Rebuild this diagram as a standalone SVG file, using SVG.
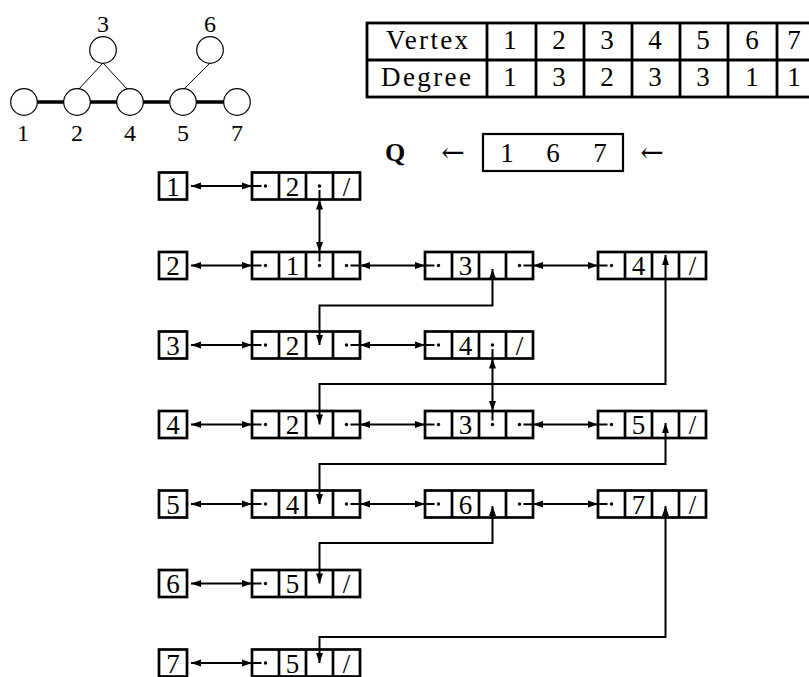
<svg xmlns="http://www.w3.org/2000/svg" width="809" height="677" viewBox="0 0 809 677">
<style>
.t{font-family:"Liberation Serif","Times New Roman",serif;fill:#000}
.g{font-size:24px;text-anchor:middle}
.d{font-size:27px;text-anchor:middle}
.box{fill:#fff;stroke:#000;stroke-width:2.7}
.sep{stroke:#000;stroke-width:2.7}
.tl{stroke:#000;stroke-width:2.8}
.v{fill:#fff;stroke:#000;stroke-width:1.2}
.thick{stroke:#000;stroke-width:3.5}
.thin{stroke:#000;stroke-width:1}
.c{fill:none;stroke:#000;stroke-width:2}
.dot{fill:#000}
.arr{font-family:"DejaVu Serif",serif;font-size:28px;text-anchor:middle}
</style>
<defs>
<marker id="a" markerUnits="userSpaceOnUse" markerWidth="10" markerHeight="7" refX="10" refY="3.5" orient="auto-start-reverse" overflow="visible"><path d="M0,0 L10,3.5 L0,7 z" fill="#000"/></marker>
<marker id="ai" markerUnits="userSpaceOnUse" markerWidth="20" markerHeight="7" refX="19.5" refY="3.5" orient="auto-start-reverse" overflow="visible"><path d="M0,0 L10,3.5 L0,7 z" fill="#000"/></marker>
</defs>

<!-- small graph -->
<g id="graph-edges">
<line class="thick" x1="24" y1="102" x2="237" y2="102"/>
<line class="thin" x1="103" y1="63" x2="78" y2="90"/>
<line class="thin" x1="103" y1="63" x2="128" y2="90"/>
<line class="thin" x1="210" y1="63" x2="184" y2="89"/>
</g>
<g id="v1"><circle class="v" cx="24" cy="102" r="13.3"/><text class="t g" x="23" y="141">1</text></g>
<g id="v2"><circle class="v" cx="77" cy="102" r="13.3"/><text class="t g" x="77" y="141">2</text></g>
<g id="v4"><circle class="v" cx="130" cy="102" r="13.3"/><text class="t g" x="130" y="141">4</text></g>
<g id="v5"><circle class="v" cx="183" cy="102" r="13.3"/><text class="t g" x="183" y="141">5</text></g>
<g id="v7"><circle class="v" cx="237" cy="102" r="13.3"/><text class="t g" x="237" y="141">7</text></g>
<g id="v3"><circle class="v" cx="103" cy="50" r="13.3"/><text class="t g" x="103" y="32">3</text></g>
<g id="v6"><circle class="v" cx="210" cy="50" r="13.3"/><text class="t g" x="210" y="32">6</text></g>

<!-- degree table -->
<g id="table">
<rect x="367" y="23" width="460" height="74" fill="none" stroke="#000" stroke-width="2.8"/>
<line class="tl" x1="367" y1="60" x2="827" y2="60"/>
<line class="tl" x1="487" y1="23" x2="487" y2="97"/>
<line class="tl" x1="536" y1="23" x2="536" y2="97"/>
<line class="tl" x1="584" y1="23" x2="584" y2="97"/>
<line class="tl" x1="632" y1="23" x2="632" y2="97"/>
<line class="tl" x1="680" y1="23" x2="680" y2="97"/>
<line class="tl" x1="728" y1="23" x2="728" y2="97"/>
<line class="tl" x1="777" y1="23" x2="777" y2="97"/>
<text class="t d" x="427" y="49" textLength="82" lengthAdjust="spacing">Vertex</text>
<text class="t d" x="510" y="49">1</text><text class="t d" x="559" y="49">2</text><text class="t d" x="607" y="49">3</text><text class="t d" x="655" y="49">4</text><text class="t d" x="703" y="49">5</text><text class="t d" x="752" y="49">6</text><text class="t d" x="794" y="49">7</text>
<text class="t d" x="426" y="86" textLength="90" lengthAdjust="spacing">Degree</text>
<text class="t d" x="510" y="86">1</text><text class="t d" x="559" y="86">3</text><text class="t d" x="607" y="86">2</text><text class="t d" x="655" y="86">3</text><text class="t d" x="703" y="86">3</text><text class="t d" x="752" y="86">1</text><text class="t d" x="794" y="86">1</text>
</g>

<!-- queue -->
<g id="queue">
<text class="t" x="395" y="161" font-size="26" font-weight="bold" text-anchor="middle">Q</text>
<text class="arr" x="453" y="162">←</text>
<rect x="483" y="134" width="140" height="37" fill="none" stroke="#000" stroke-width="2.2"/>
<text class="t d" x="507" y="162">1</text><text class="t d" x="553" y="162">6</text><text class="t d" x="600" y="162">7</text>
<text class="arr" x="652" y="162">←</text>
</g>

<!-- head boxes -->
<g id="h1"><rect class="box" x="159" y="172.5" width="28" height="27"/><text class="t d" x="173" y="195.5">1</text></g>
<g id="h2"><rect class="box" x="159" y="252" width="28" height="27"/><text class="t d" x="173" y="275">2</text></g>
<g id="h3"><rect class="box" x="159" y="331.5" width="28" height="27"/><text class="t d" x="173" y="354.5">3</text></g>
<g id="h4"><rect class="box" x="159" y="411" width="28" height="27"/><text class="t d" x="173" y="434">4</text></g>
<g id="h5"><rect class="box" x="159" y="490.5" width="28" height="27"/><text class="t d" x="173" y="513.5">5</text></g>
<g id="h6"><rect class="box" x="159" y="570" width="28" height="27"/><text class="t d" x="173" y="593">6</text></g>
<g id="h7"><rect class="box" x="159" y="649.5" width="28" height="27"/><text class="t d" x="173" y="672.5">7</text></g>

<!-- list nodes -->
<g id="n1-2"><rect class="box" x="252" y="172.5" width="108" height="27"/><path class="sep" d="M279,172.5V199.5M306,172.5V199.5M333,172.5V199.5"/><circle class="dot" cx="265.5" cy="186" r="1.7"/><text class="t d" x="292.5" y="195.5">2</text><circle class="dot" cx="319.5" cy="186" r="1.7"/><text class="t d" x="346.5" y="195.5">/</text></g>

<g id="n2-1"><rect class="box" x="252" y="252" width="108" height="27"/><path class="sep" d="M279,252V279M306,252V279M333,252V279"/><circle class="dot" cx="265.5" cy="265.5" r="1.7"/><text class="t d" x="292.5" y="275">1</text><circle class="dot" cx="319.5" cy="265.5" r="1.7"/><circle class="dot" cx="346.5" cy="265.5" r="1.7"/></g>
<g id="n2-3"><rect class="box" x="425" y="252" width="108" height="27"/><path class="sep" d="M452,252V279M479,252V279M506,252V279"/><circle class="dot" cx="438.5" cy="265.5" r="1.7"/><text class="t d" x="465.5" y="275">3</text><circle class="dot" cx="519.5" cy="265.5" r="1.7"/></g>
<g id="n2-4"><rect class="box" x="598" y="252" width="108" height="27"/><path class="sep" d="M625,252V279M652,252V279M679,252V279"/><circle class="dot" cx="611.5" cy="265.5" r="1.7"/><text class="t d" x="638.5" y="275">4</text><text class="t d" x="692.5" y="275">/</text></g>

<g id="n3-2"><rect class="box" x="252" y="331.5" width="108" height="27"/><path class="sep" d="M279,331.5V358.5M306,331.5V358.5M333,331.5V358.5"/><circle class="dot" cx="265.5" cy="345" r="1.7"/><text class="t d" x="292.5" y="354.5">2</text><circle class="dot" cx="346.5" cy="345" r="1.7"/></g>
<g id="n3-4"><rect class="box" x="425" y="331.5" width="108" height="27"/><path class="sep" d="M452,331.5V358.5M479,331.5V358.5M506,331.5V358.5"/><circle class="dot" cx="438.5" cy="345" r="1.7"/><text class="t d" x="465.5" y="354.5">4</text><circle class="dot" cx="492.5" cy="345" r="1.7"/><text class="t d" x="519.5" y="354.5">/</text></g>

<g id="n4-2"><rect class="box" x="252" y="411" width="108" height="27"/><path class="sep" d="M279,411V438M306,411V438M333,411V438"/><circle class="dot" cx="265.5" cy="424.5" r="1.7"/><text class="t d" x="292.5" y="434">2</text><circle class="dot" cx="346.5" cy="424.5" r="1.7"/></g>
<g id="n4-3"><rect class="box" x="425" y="411" width="108" height="27"/><path class="sep" d="M452,411V438M479,411V438M506,411V438"/><circle class="dot" cx="438.5" cy="424.5" r="1.7"/><text class="t d" x="465.5" y="434">3</text><circle class="dot" cx="492.5" cy="424.5" r="1.7"/><circle class="dot" cx="519.5" cy="424.5" r="1.7"/></g>
<g id="n4-5"><rect class="box" x="598" y="411" width="108" height="27"/><path class="sep" d="M625,411V438M652,411V438M679,411V438"/><circle class="dot" cx="611.5" cy="424.5" r="1.7"/><text class="t d" x="638.5" y="434">5</text><text class="t d" x="692.5" y="434">/</text></g>

<g id="n5-4"><rect class="box" x="252" y="490.5" width="108" height="27"/><path class="sep" d="M279,490.5V517.5M306,490.5V517.5M333,490.5V517.5"/><circle class="dot" cx="265.5" cy="504" r="1.7"/><text class="t d" x="292.5" y="513.5">4</text><circle class="dot" cx="346.5" cy="504" r="1.7"/></g>
<g id="n5-6"><rect class="box" x="425" y="490.5" width="108" height="27"/><path class="sep" d="M452,490.5V517.5M479,490.5V517.5M506,490.5V517.5"/><circle class="dot" cx="438.5" cy="504" r="1.7"/><text class="t d" x="465.5" y="513.5">6</text><circle class="dot" cx="519.5" cy="504" r="1.7"/></g>
<g id="n5-7"><rect class="box" x="598" y="490.5" width="108" height="27"/><path class="sep" d="M625,490.5V517.5M652,490.5V517.5M679,490.5V517.5"/><circle class="dot" cx="611.5" cy="504" r="1.7"/><text class="t d" x="638.5" y="513.5">7</text><text class="t d" x="692.5" y="513.5">/</text></g>

<g id="n6-5"><rect class="box" x="252" y="570" width="108" height="27"/><path class="sep" d="M279,570V597M306,570V597M333,570V597"/><circle class="dot" cx="265.5" cy="583.5" r="1.7"/><text class="t d" x="292.5" y="593">5</text><text class="t d" x="346.5" y="593">/</text></g>

<g id="n7-5"><rect class="box" x="252" y="649.5" width="108" height="27"/><path class="sep" d="M279,649.5V676.5M306,649.5V676.5M333,649.5V676.5"/><circle class="dot" cx="265.5" cy="663" r="1.7"/><text class="t d" x="292.5" y="672.5">5</text><text class="t d" x="346.5" y="672.5">/</text></g>

<!-- connectors -->
<g id="connectors">
<path class="c" marker-start="url(#a)" marker-end="url(#ai)" d="M191,186H261.5"/>
<path class="c" marker-start="url(#a)" marker-end="url(#ai)" d="M191,265.5H261.5"/>
<path class="c" marker-start="url(#a)" marker-end="url(#ai)" d="M191,345H261.5"/>
<path class="c" marker-start="url(#a)" marker-end="url(#ai)" d="M191,424.5H261.5"/>
<path class="c" marker-start="url(#a)" marker-end="url(#ai)" d="M191,504H261.5"/>
<path class="c" marker-start="url(#a)" marker-end="url(#ai)" d="M191,583.5H261.5"/>
<path class="c" marker-start="url(#a)" marker-end="url(#ai)" d="M191,663H261.5"/>

<path class="c" marker-start="url(#ai)" marker-end="url(#ai)" d="M350.5,265.5H434.5"/>
<path class="c" marker-start="url(#ai)" marker-end="url(#ai)" d="M523.5,265.5H607.5"/>
<path class="c" marker-start="url(#ai)" marker-end="url(#ai)" d="M350.5,345H434.5"/>
<path class="c" marker-start="url(#ai)" marker-end="url(#ai)" d="M350.5,424.5H434.5"/>
<path class="c" marker-start="url(#ai)" marker-end="url(#ai)" d="M523.5,424.5H607.5"/>
<path class="c" marker-start="url(#ai)" marker-end="url(#ai)" d="M350.5,504H434.5"/>
<path class="c" marker-start="url(#ai)" marker-end="url(#ai)" d="M523.5,504H607.5"/>

<path class="c" marker-start="url(#ai)" marker-end="url(#ai)" d="M319.5,190V261.5"/>
<path class="c" marker-start="url(#ai)" marker-end="url(#ai)" d="M492.5,349V420.5"/>

<path class="c" marker-start="url(#a)" marker-end="url(#a)" d="M492.5,269V305.5H319.5V345"/>
<path class="c" marker-start="url(#a)" marker-end="url(#a)" d="M665.5,255V384H319.5V424.5"/>
<path class="c" marker-start="url(#a)" marker-end="url(#a)" d="M665.5,423V464H319.5V504"/>
<path class="c" marker-start="url(#a)" marker-end="url(#a)" d="M492.5,506V543H319.5V583.5"/>
<path class="c" marker-start="url(#a)" marker-end="url(#a)" d="M665.5,506V637H319.5V663"/>
</g>
</svg>
